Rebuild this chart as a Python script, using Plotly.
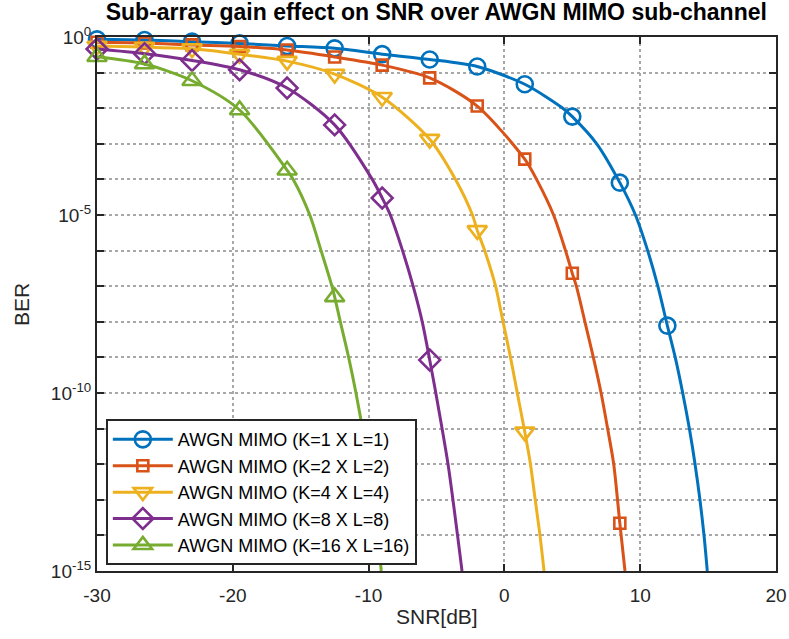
import plotly.graph_objects as go

# SNR [dB] positions carrying a marker
MARK_SNR = [-30, -26.5, -23, -19.5, -16, -12.5, -9, -5.5, -2, 1.5, 5, 8.5, 12]

# BER at the marker positions (one list per sub-array size)
BER_K1 = [0.86, 0.82, 0.74, 0.66, 0.56, 0.48, 0.33, 0.234, 0.148, 0.047, 5.8e-3, 8.1e-5, 7.8e-9]
BER_K2 = [0.71, 0.68, 0.60, 0.54, 0.43, 0.275, 0.162, 0.071, 0.0115, 3.7e-4, 2.3e-7, 2.2e-14]
BER_K4 = [0.56, 0.52, 0.47, 0.33, 0.21, 0.091, 0.0204, 1.35e-3, 3.7e-6, 8.1e-12]
BER_K8 = [0.46, 0.34, 0.22, 0.12, 0.037, 3.4e-3, 3.0e-5, 8.5e-10]
BER_K16 = [0.28, 0.175, 0.059, 8.9e-3, 1.8e-4, 5.0e-8]

# extra samples along the steep part of each curve
SNR_K1_EXTRA = [4.3, 6.8, 9.65, 10.55, 11.3, 12.58, 13.13, 13.62, 14.04, 14.40, 14.70, 14.94]
BER_K1_EXTRA = [1e-2, 1e-3, 1e-5, 1e-6, 1e-7, 1e-9, 1e-10, 1e-11, 1e-12, 1e-13, 1e-14, 1e-15]

SNR_K2_EXTRA = [2.37, 3.62, 4.5, 5.3, 5.93, 6.55, 7.12, 7.6, 8.05, 8.88]
BER_K2_EXTRA = [1e-4, 1e-5, 1e-6, 1e-7, 1e-8, 1e-9, 1e-10, 1e-11, 1e-12, 1e-15]

SNR_K4_EXTRA = [-3.6, -2.35, -1.45, -0.65, -0.1, 0.45, 0.95, 1.92, 2.27, 2.62, 2.92]
BER_K4_EXTRA = [1e-4, 1e-5, 1e-6, 1e-7, 1e-8, 1e-9, 1e-10, 1e-12, 1e-13, 1e-14, 1e-15]

SNR_K8_EXTRA = [-9.73, -8.4, -7.5, -6.72, -6.05, -5.05, -4.15, -3.45, -3.12]
BER_K8_EXTRA = [1e-4, 1e-5, 1e-6, 1e-7, 1e-8, 1e-10, 1e-12, 1e-14, 1e-15]

SNR_K16_EXTRA = [-15.55, -14.33, -13.5, -12.7, -12.08, -11.47, -10.93, -10.45, -9.98, -9.32, -9.07]
BER_K16_EXTRA = [1e-4, 1e-5, 1e-6, 1e-7, 1e-8, 1e-9, 1e-10, 1e-11, 1e-12, 1e-14, 1e-15]

LABELS = [
    "AWGN MIMO (K=1 X L=1)",
    "AWGN MIMO (K=2 X L=2)",
    "AWGN MIMO (K=4 X L=4)",
    "AWGN MIMO (K=8 X L=8)",
    "AWGN MIMO (K=16 X L=16)",
]
COLORS = ["#0072BD", "#D95319", "#EDB120", "#7E2F8E", "#77AC30"]
SYMBOLS = ["circle-open", "square-open", "triangle-down-open", "diamond-open", "triangle-up-open"]
SIZES = [16, 11, 17, 16, 17]

X_TICKS = [-30, -20, -10, 0, 10, 20]
Y_MAJOR = [1.0, 1e-5, 1e-10, 1e-15]
Y_MAJOR_TEXT = ["10<sup>0</sup>", "10<sup>-5</sup>", "10<sup>-10</sup>", "10<sup>-15</sup>"]
Y_DECADES = [10.0 ** -k for k in range(16)]

series = [
    (BER_K1, SNR_K1_EXTRA, BER_K1_EXTRA),
    (BER_K2, SNR_K2_EXTRA, BER_K2_EXTRA),
    (BER_K4, SNR_K4_EXTRA, BER_K4_EXTRA),
    (BER_K8, SNR_K8_EXTRA, BER_K8_EXTRA),
    (BER_K16, SNR_K16_EXTRA, BER_K16_EXTRA),
]

FONT = "Arial, Liberation Sans, Helvetica, sans-serif"
INK = "#262626"
GRID = "#a8a8a8"

fig = go.Figure()
for i, (ber_m, snr_x, ber_x) in enumerate(series):
    snr_m = MARK_SNR[: len(ber_m)]
    pts = sorted(zip(list(snr_m) + list(snr_x), list(ber_m) + list(ber_x)))
    color = COLORS[i]
    # smooth curve
    fig.add_trace(go.Scatter(
        x=[p[0] for p in pts], y=[p[1] for p in pts], mode="lines",
        line=dict(color=color, width=3, shape="spline", smoothing=0.8),
        showlegend=False, hoverinfo="skip", legendgroup=str(i),
    ))
    # markers
    fig.add_trace(go.Scatter(
        x=snr_m, y=ber_m, mode="markers",
        marker=dict(symbol=SYMBOLS[i], size=SIZES[i], color=color,
                    line=dict(color=color, width=2.6)),
        showlegend=False, cliponaxis=False, legendgroup=str(i),
    ))
    # legend entry
    fig.add_trace(go.Scatter(
        x=[None], y=[None], mode="lines+markers", name=LABELS[i],
        line=dict(color=color, width=3),
        marker=dict(symbol=SYMBOLS[i], size=SIZES[i], color=color,
                    line=dict(color=color, width=2.6)),
        legendgroup=str(i),
    ))

axis_common = dict(
    showline=True, linecolor=INK, linewidth=2, mirror="ticks",
    ticks="inside", ticklen=7, tickwidth=2, tickcolor=INK,
    showgrid=True, gridcolor=GRID, griddash="dot", gridwidth=1.5,
    zeroline=False, automargin=False,
    tickfont=dict(family=FONT, size=19, color=INK),
)

fig.update_xaxes(
    range=[-30, 20], tickvals=X_TICKS, ticktext=[str(v) for v in X_TICKS],
    ticklabelstandoff=6,
    **axis_common,
)
fig.update_yaxes(
    type="log", range=[-15, 0], tickvals=Y_MAJOR, ticktext=Y_MAJOR_TEXT,
    minor=dict(tickvals=Y_DECADES, ticks="inside", ticklen=7, tickwidth=2, tickcolor=INK,
               showgrid=True, gridcolor=GRID, griddash="dot", gridwidth=1.5),
    **axis_common,
)

fig.update_layout(
    width=789, height=639,
    margin=dict(l=97, r=13, t=37, b=68),
    paper_bgcolor="white", plot_bgcolor="white",
    title=dict(
        text="<b>Sub-array gain effect on SNR over AWGN MIMO sub-channel</b>",
        font=dict(family=FONT, size=23, color="#000000"),
        x=0.553, xanchor="center", y=0.981, yanchor="middle", xref="container", yref="container",
    ),
    annotations=[
        dict(text="SNR[dB]", xref="paper", yref="paper", x=0.5, y=-0.086,
             xanchor="center", yanchor="middle", showarrow=False,
             font=dict(family=FONT, size=21, color=INK)),
        dict(text="BER", xref="paper", yref="paper", x=-0.112, y=0.5,
             xanchor="center", yanchor="middle", showarrow=False, textangle=-90,
             font=dict(family=FONT, size=21, color=INK)),
    ],
    legend=dict(
        x=0.013, y=0.011, xanchor="left", yanchor="bottom",
        bgcolor="white", bordercolor=INK, borderwidth=2,
        font=dict(family=FONT, size=18, color="#000000"),
        tracegroupgap=0, itemwidth=60,
    ),
    showlegend=True,
)

fig.write_html("out.html")
